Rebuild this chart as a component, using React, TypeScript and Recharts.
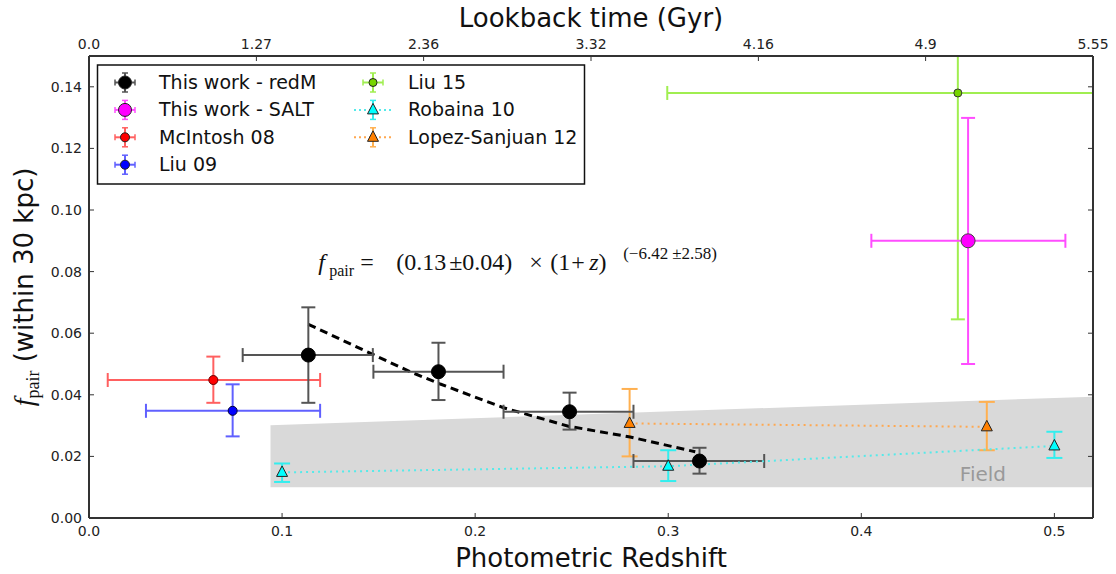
import React from "react";
import { Area, ComposedChart, ErrorBar, Line, ReferenceArea, ReferenceDot, Scatter, XAxis, YAxis } from "recharts";

// this work - redMaPPer
const REDM_Z = [0.1136, 0.181, 0.2489, 0.3162];
const REDM_F = [0.0529, 0.0475, 0.0345, 0.0185];
const REDM_Z_LO = [0.0796, 0.1473, 0.2147, 0.282];
const REDM_Z_HI = [0.147, 0.2147, 0.282, 0.3497];
const REDM_F_LO = [0.0374, 0.0383, 0.0287, 0.0144];
const REDM_F_HI = [0.0684, 0.0569, 0.0407, 0.0228];

// this work - SALT
const SALT_Z = [0.4553];
const SALT_F = [0.09];
const SALT_Z_LO = [0.4052];
const SALT_Z_HI = [0.5057];
const SALT_F_LO = [0.05];
const SALT_F_HI = [0.1299];

const MCINTOSH_Z = [0.0644];
const MCINTOSH_F = [0.0448];
const MCINTOSH_Z_LO = [0.0097];
const MCINTOSH_Z_HI = [0.1197];
const MCINTOSH_F_LO = [0.0374];
const MCINTOSH_F_HI = [0.0524];

const LIU09_Z = [0.0744];
const LIU09_F = [0.0348];
const LIU09_Z_LO = [0.0295];
const LIU09_Z_HI = [0.1197];
const LIU09_F_LO = [0.0265];
const LIU09_F_HI = [0.0434];

const LIU15_Z = [0.45];
const LIU15_F = [0.138];
const LIU15_Z_LO = [0.2995];
const LIU15_Z_HI = [0.6];
const LIU15_F_LO = [0.0645];
const LIU15_F_HI = [0.2115];

const ROBAINA_Z = [0.1, 0.3, 0.5];
const ROBAINA_F = [0.0148, 0.0168, 0.0234];
const ROBAINA_F_LO = [0.0117, 0.012, 0.0195];
const ROBAINA_F_HI = [0.0177, 0.022, 0.028];

const LOPEZ_Z = [0.28, 0.465];
const LOPEZ_F = [0.0307, 0.0296];
const LOPEZ_F_LO = [0.02, 0.022];
const LOPEZ_F_HI = [0.0419, 0.0377];

// fitted power law
const FIT_Z = [0.1136, 0.1456, 0.1663, 0.1819, 0.2147, 0.2483, 0.2803, 0.314];
const FIT_F = [0.0629, 0.0535, 0.0475, 0.0435, 0.0358, 0.0298, 0.0263, 0.0215];

// field band (grey)
const FIELD_Z = [0.094, 0.52];
const FIELD_LO = [0.01, 0.01];
const FIELD_HI = [0.0301, 0.0394];

const Z_DOMAIN = [0, 0.52];
const F_DOMAIN = [0, 0.15];
const Z_TICKS = [0, 0.1, 0.2, 0.3, 0.4, 0.5];
const F_TICKS = [0, 0.02, 0.04, 0.06, 0.08, 0.1, 0.12, 0.14];
const LOOKBACK_POS = [0, 0.0867, 0.1733, 0.26, 0.3467, 0.4333, 0.52];
const LOOKBACK_LABELS = ["0.0", "1.27", "2.36", "3.32", "4.16", "4.9", "5.55"];

const FORMULA_AT = [0.1187, 0.0806];
const FIELD_LABEL_AT = [0.463, 0.012];

const LEGEND_COL1 = ["This work - redM", "This work - SALT", "McIntosh 08", "Liu 09"];
const LEGEND_COL2 = ["Liu 15", "Robaina 10", "Lopez-Sanjuan 12"];

const AXIS = "#333";
const SANS = "'DejaVu Sans', sans-serif";
const SERIF = "'Liberation Serif', 'DejaVu Serif', serif";
const CLIP = "url(#plot-clip)";

function points(
  z: number[],
  f: number[],
  fLo: number[],
  fHi: number[],
  zLo?: number[],
  zHi?: number[]
) {
  return z.map((v, i) => ({
    z: v,
    f: f[i],
    ex: zLo && zHi ? [v - zLo[i], zHi[i] - v] : [0, 0],
    ey: [f[i] - fLo[i], fHi[i] - f[i]],
  }));
}

const redM = points(REDM_Z, REDM_F, REDM_F_LO, REDM_F_HI, REDM_Z_LO, REDM_Z_HI);
const salt = points(SALT_Z, SALT_F, SALT_F_LO, SALT_F_HI, SALT_Z_LO, SALT_Z_HI);
const mcintosh = points(MCINTOSH_Z, MCINTOSH_F, MCINTOSH_F_LO, MCINTOSH_F_HI, MCINTOSH_Z_LO, MCINTOSH_Z_HI);
const liu09 = points(LIU09_Z, LIU09_F, LIU09_F_LO, LIU09_F_HI, LIU09_Z_LO, LIU09_Z_HI);
const liu15 = points(LIU15_Z, LIU15_F, LIU15_F_LO, LIU15_F_HI, LIU15_Z_LO, LIU15_Z_HI);
const robaina = points(ROBAINA_Z, ROBAINA_F, ROBAINA_F_LO, ROBAINA_F_HI);
const lopez = points(LOPEZ_Z, LOPEZ_F, LOPEZ_F_LO, LOPEZ_F_HI);
const fit = FIT_Z.map((z, i) => ({ z, f: FIT_F[i] }));
const field = FIELD_Z.map((z, i) => ({ z, lo: FIELD_LO[i], hi: FIELD_HI[i] }));

const circle = (r: number, fill: string, edge: string) => (p: any) =>
  <circle cx={p.cx} cy={p.cy} r={r} fill={fill} stroke={edge} strokeWidth={1} />;

const triangle = (fill: string) => (p: any) =>
  <path d={`M${p.cx},${p.cy - 6.5} L${p.cx + 5.5},${p.cy + 4} L${p.cx - 5.5},${p.cy + 4} Z`} fill={fill} stroke="#222" strokeWidth={1} />;

const BottomTick = (p: any) => (
  <g>
    <line x1={p.x} x2={p.x} y1={p.y} y2={p.y - 5} stroke={AXIS} />
    <text x={p.x} y={p.y + 18} textAnchor="middle" fontSize={14} fontFamily={SANS} fill="#222">
      {Number(p.payload.value).toFixed(1)}
    </text>
  </g>
);

const TopTick = (p: any) => (
  <g>
    <line x1={p.x} x2={p.x} y1={p.y} y2={p.y + 5} stroke={AXIS} />
    <text x={p.x} y={p.y - 7} textAnchor="middle" fontSize={14} fontFamily={SANS} fill="#222">
      {LOOKBACK_LABELS[p.index]}
    </text>
  </g>
);

const LeftTick = (p: any) => (
  <g>
    <line x1={p.x} x2={p.x + 5} y1={p.y} y2={p.y} stroke={AXIS} />
    <text x={p.x - 7} y={p.y + 5} textAnchor="end" fontSize={14} fontFamily={SANS} fill="#222">
      {Number(p.payload.value).toFixed(2)}
    </text>
  </g>
);

const RightTick = (p: any) => <line x1={p.x} x2={p.x - 5} y1={p.y} y2={p.y} stroke={AXIS} />;

const YTitle = (p: any) => {
  const vb = p.viewBox;
  const cx = vb.x + 33;
  const cy = vb.y + vb.height / 2;
  return (
    <text transform={`translate(${cx},${cy}) rotate(-90)`} textAnchor="middle" fontSize={26} fontFamily={SANS} fill="#111">
      <tspan fontFamily={SERIF} fontStyle="italic" fontSize={28}>f</tspan>
      <tspan fontFamily={SERIF} fontSize={18} dy={6}>pair</tspan>
      <tspan dy={-6}>{"  (within 30 kpc)"}</tspan>
    </text>
  );
};

const Formula = (p: any) => {
  const { cx, cy } = p;
  return (
    <text y={cy} fontFamily={SERIF} fontSize={24} fill="#111">
      <tspan x={cx} fontStyle="italic">f</tspan>
      <tspan x={cx + 11} y={cy + 6} fontSize={16}>pair</tspan>
      <tspan x={cx + 42} y={cy}>=</tspan>
      <tspan x={cx + 78}>(0.13</tspan>
      <tspan x={cx + 131}>±0.04)</tspan>
      <tspan x={cx + 211}>×</tspan>
      <tspan x={cx + 232}>(1</tspan>
      <tspan x={cx + 253}>+</tspan>
      <tspan x={cx + 271} fontStyle="italic">z</tspan>
      <tspan>)</tspan>
      <tspan x={cx + 305} y={cy - 11} fontSize={17}>(−6.42</tspan>
      <tspan x={cx + 354} fontSize={17}>±2.58)</tspan>
    </text>
  );
};

const FieldLabel = (p: any) => (
  <text x={p.cx} y={p.cy} textAnchor="middle" fontFamily={SANS} fontSize={20} fill="#999">
    Field
  </text>
);

// invisible rect over the plot area that only defines the clip path for overflowing error bars
const PlotClip = (p: any) => (
  <defs>
    <clipPath id="plot-clip">
      <rect x={p.x} y={p.y} width={p.width} height={p.height} />
    </clipPath>
  </defs>
);

function LegendIcon({ x, y, color, bar, r, tri, dotted }: any) {
  return (
    <g>
      {dotted && <line x1={x - 19} x2={x + 19} y1={y} y2={y} stroke={dotted} strokeWidth={2} strokeDasharray="2 3" />}
      {!dotted && <line x1={x - 10} x2={x + 10} y1={y} y2={y} stroke={bar} strokeWidth={2} />}
      {!dotted && <line x1={x - 10} x2={x - 10} y1={y - 3} y2={y + 3} stroke={bar} strokeWidth={1.5} />}
      {!dotted && <line x1={x + 10} x2={x + 10} y1={y - 3} y2={y + 3} stroke={bar} strokeWidth={1.5} />}
      <line x1={x} x2={x} y1={y - 9.5} y2={y + 9.5} stroke={bar} strokeWidth={2} />
      <line x1={x - 3} x2={x + 3} y1={y - 9.5} y2={y - 9.5} stroke={bar} strokeWidth={1.5} />
      <line x1={x - 3} x2={x + 3} y1={y + 9.5} y2={y + 9.5} stroke={bar} strokeWidth={1.5} />
      {tri ? (
        <path d={`M${x},${y - 6.5} L${x + 5.5},${y + 4} L${x - 5.5},${y + 4} Z`} fill={color} stroke="#222" />
      ) : (
        <circle cx={x} cy={y} r={r} fill={color} stroke="#222" />
      )}
    </g>
  );
}

const LEGEND_STYLE = [
  { color: "#000", bar: "#555", r: 6.5 },
  { color: "#ff00ff", bar: "#ff4dff", r: 6.5 },
  { color: "#ff0000", bar: "#ff6060", r: 4.5 },
  { color: "#0000ff", bar: "#6060ff", r: 4.5 },
  { color: "#77d400", bar: "#a0ee50", r: 4 },
  { color: "#00ffff", bar: "#33eeee", tri: true, dotted: "#55eaea" },
  { color: "#ff8000", bar: "#ffb050", tri: true, dotted: "#ffa850" },
];

function LegendBox() {
  return (
    <svg width={1116} height={574} style={{ position: "absolute", left: 0, top: 0, pointerEvents: "none" }}>
      <rect x={97.5} y={65} width={487} height={119} fill="#fff" stroke="#111" strokeWidth={1.5} />
      {LEGEND_COL1.map((label, i) => (
        <g key={label}>
          <LegendIcon x={125} y={82.5 + i * 27.4} {...LEGEND_STYLE[i]} />
          <text x={159} y={89 + i * 27.4} fontFamily={SANS} fontSize={19} fill="#111">{label}</text>
        </g>
      ))}
      {LEGEND_COL2.map((label, i) => (
        <g key={label}>
          <LegendIcon x={373} y={82.5 + i * 27.4} {...LEGEND_STYLE[4 + i]} />
          <text x={408} y={89 + i * 27.4} fontFamily={SANS} fontSize={19} fill="#111">{label}</text>
        </g>
      ))}
    </svg>
  );
}

export default function App() {
  return (
    <div style={{ position: "absolute", left: 0, top: 0, width: 1116, height: 574, background: "#fff" }}>
      <ComposedChart width={1116} height={574} margin={{ top: 0, right: 0, bottom: 0, left: 0 }}>
        <XAxis
          dataKey="z"
          type="number"
          domain={Z_DOMAIN}
          allowDataOverflow
          ticks={Z_TICKS}
          interval={0}
          height={56}
          tickSize={0}
          tickMargin={0}
          tickLine={false}
          tick={BottomTick}
          axisLine={{ stroke: AXIS, strokeWidth: 2 }}
          label={{ value: "Photometric Redshift", position: "insideBottom", offset: 7, fontSize: 26, fontFamily: SANS, fill: "#111" }}
        />
        <XAxis
          xAxisId="top"
          orientation="top"
          dataKey="z"
          type="number"
          domain={Z_DOMAIN}
          allowDataOverflow
          ticks={LOOKBACK_POS}
          interval={0}
          height={56}
          tickSize={0}
          tickMargin={0}
          tickLine={false}
          tick={TopTick}
          axisLine={{ stroke: AXIS, strokeWidth: 2 }}
          label={{ value: "Lookback time (Gyr)", position: "insideTop", offset: 9, fontSize: 26, fontFamily: SANS, fill: "#111" }}
        />
        <YAxis
          dataKey="f"
          type="number"
          domain={F_DOMAIN}
          allowDataOverflow
          ticks={F_TICKS}
          interval={0}
          width={89}
          tickSize={0}
          tickMargin={0}
          tickLine={false}
          tick={LeftTick}
          axisLine={{ stroke: AXIS, strokeWidth: 2 }}
          label={YTitle}
        />
        <YAxis
          yAxisId="right"
          orientation="right"
          dataKey="f"
          type="number"
          domain={F_DOMAIN}
          allowDataOverflow
          ticks={F_TICKS}
          interval={0}
          width={23}
          tickSize={0}
          tickMargin={0}
          tickLine={false}
          tick={RightTick}
          axisLine={{ stroke: AXIS, strokeWidth: 2 }}
        />

        <ReferenceArea x1={Z_DOMAIN[0]} x2={Z_DOMAIN[1]} y1={F_DOMAIN[0]} y2={F_DOMAIN[1]} shape={PlotClip} />

        <Area data={field} dataKey={(d: any) => [d.lo, d.hi]} type="linear" fill="#d9d9d9" fillOpacity={1} stroke="none" isAnimationActive={false} />

        <Scatter data={robaina} shape={triangle("#00ffff")} line={{ stroke: "#55eaea", strokeWidth: 2, strokeDasharray: "2 4" }} lineType="joint" isAnimationActive={false}>
          <ErrorBar dataKey="ey" direction="y" width={8} stroke="#33eeee" strokeWidth={2} isAnimationActive={false} />
        </Scatter>
        <Scatter data={lopez} shape={triangle("#ff8000")} line={{ stroke: "#ffa850", strokeWidth: 2, strokeDasharray: "2 4" }} lineType="joint" isAnimationActive={false}>
          <ErrorBar dataKey="ey" direction="y" width={8} stroke="#ffb050" strokeWidth={2} isAnimationActive={false} />
        </Scatter>

        <Line data={fit} dataKey="f" type="linear" stroke="#000" strokeWidth={3} strokeDasharray="8 5" dot={false} isAnimationActive={false} />

        <Scatter data={mcintosh} shape={circle(4.5, "#ff0000", "#600")} isAnimationActive={false}>
          <ErrorBar dataKey="ex" direction="x" width={7} stroke="#ff6060" strokeWidth={2} isAnimationActive={false} />
          <ErrorBar dataKey="ey" direction="y" width={7} stroke="#ff6060" strokeWidth={2} isAnimationActive={false} />
        </Scatter>
        <Scatter data={liu09} shape={circle(4.5, "#0000ff", "#003")} isAnimationActive={false}>
          <ErrorBar dataKey="ex" direction="x" width={7} stroke="#6060ff" strokeWidth={2} isAnimationActive={false} />
          <ErrorBar dataKey="ey" direction="y" width={7} stroke="#6060ff" strokeWidth={2} isAnimationActive={false} />
        </Scatter>
        <Scatter data={liu15} shape={circle(4, "#77d400", "#333")} isAnimationActive={false}>
          <ErrorBar dataKey="ex" direction="x" width={7} stroke="#a0ee50" strokeWidth={2} clipPath={CLIP} isAnimationActive={false} />
          <ErrorBar dataKey="ey" direction="y" width={7} stroke="#a0ee50" strokeWidth={2} clipPath={CLIP} isAnimationActive={false} />
        </Scatter>
        <Scatter data={salt} shape={circle(7, "#ff00ff", "#444")} isAnimationActive={false}>
          <ErrorBar dataKey="ex" direction="x" width={7} stroke="#ff4dff" strokeWidth={2} isAnimationActive={false} />
          <ErrorBar dataKey="ey" direction="y" width={7} stroke="#ff4dff" strokeWidth={2} isAnimationActive={false} />
        </Scatter>
        <Scatter data={redM} shape={circle(7, "#000", "#000")} isAnimationActive={false}>
          <ErrorBar dataKey="ex" direction="x" width={7} stroke="#555" strokeWidth={2} isAnimationActive={false} />
          <ErrorBar dataKey="ey" direction="y" width={7} stroke="#555" strokeWidth={2} isAnimationActive={false} />
        </Scatter>

        <ReferenceDot x={FORMULA_AT[0]} y={FORMULA_AT[1]} r={0} shape={Formula} />
        <ReferenceDot x={FIELD_LABEL_AT[0]} y={FIELD_LABEL_AT[1]} r={0} shape={FieldLabel} />
      </ComposedChart>
      <LegendBox />
    </div>
  );
}
